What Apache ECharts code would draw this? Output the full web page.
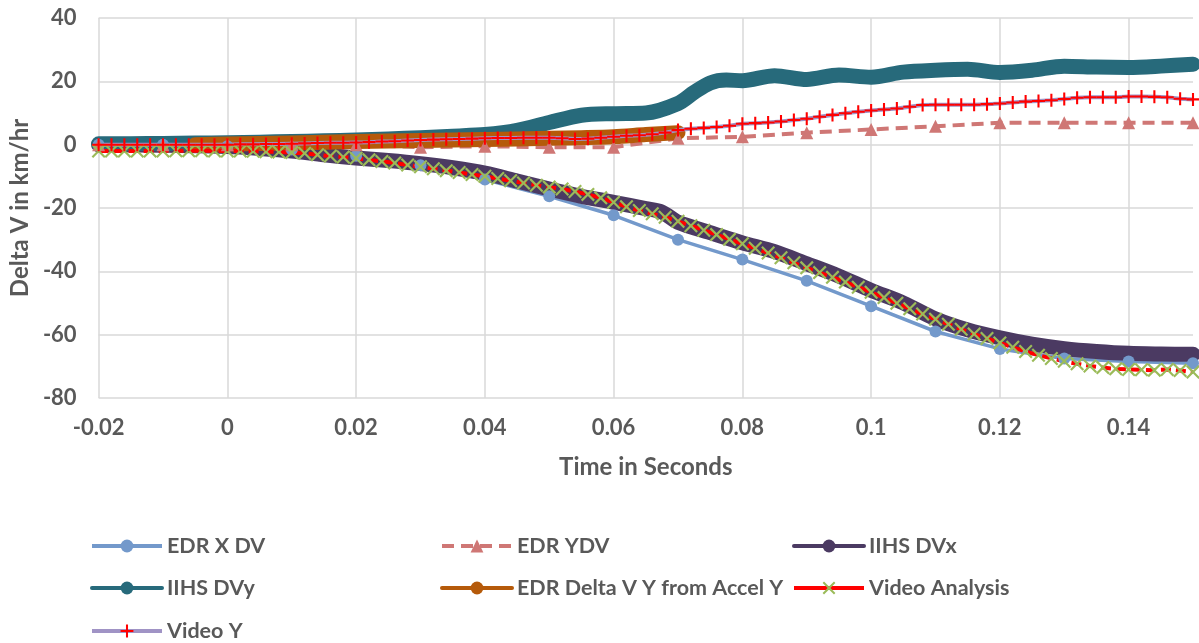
<!DOCTYPE html>
<html>
<head>
<meta charset="utf-8">
<script src="https://cdn.jsdelivr.net/npm/echarts@6/dist/echarts.min.js"></script>
<style>
html,body{margin:0;padding:0;background:#fff;}
#chart{width:1199px;height:643px;}
</style>
</head>
<body>
<div id="chart"></div>
<script>
// ---- data ----
const edrT = [-0.02,-0.01,0,0.01,0.02,0.03,0.04,0.05,0.06,0.07,0.08,0.09,0.1,0.11,0.12,0.13,0.14,0.15];
const edrXDV = [0,0,-0.5,-1.5,-3.5,-6.5,-11,-16.3,-22.3,-30,-36.3,-43,-51,-59,-64.5,-67.5,-68.5,-69];
const edrYDV = [0,0,0,0,0,-0.8,-0.5,-0.8,-0.8,2,2.5,3.8,4.8,5.8,6.9,6.9,6.9,6.9];

const dvxT = [-0.02,-0.01,0,0.005,0.01,0.015,0.02,0.025,0.03,0.035,0.04,0.045,0.05,0.055,0.06,0.065,0.0675,0.07,0.075,0.08,0.085,0.09,0.095,0.1,0.105,0.11,0.115,0.12,0.125,0.13,0.135,0.14,0.145,0.15];
const dvxV = [0,-0.2,-0.6,-1.2,-2.0,-3.2,-4.2,-5.0,-6.0,-7.3,-9.0,-11.5,-14.0,-16.3,-18.2,-20.2,-21.3,-24.5,-27.8,-31.0,-33.8,-37.6,-41.5,-46.0,-50.0,-55.0,-58.5,-61.0,-63.0,-64.4,-65.3,-65.9,-66.1,-66.2];

const dvyT = [-0.02,-0.015,-0.01,-0.005,0,0.005,0.01,0.015,0.02,0.025,0.03,0.035,0.04,0.045,0.05,0.055,0.06,0.065,0.07,0.0725,0.075,0.0775,0.08,0.085,0.09,0.095,0.1,0.105,0.11,0.115,0.12,0.125,0.13,0.135,0.14,0.145,0.15];
const dvyV = [0.3,0.3,0.4,0.5,0.6,0.8,1.0,1.2,1.5,1.8,2.2,2.7,3.2,4.5,7.0,9.3,9.8,10.0,13.0,16.5,19.5,20.4,20.2,21.8,20.6,22.0,21.3,22.9,23.5,23.8,22.8,23.5,24.8,24.5,24.4,24.8,25.4];

const accT = [-0.005,0,0.01,0.02,0.03,0.04,0.05,0.055,0.06,0.065,0.07];
const accV = [0,0.2,0.5,1.0,1.3,1.6,2.0,2.2,2.5,3.2,3.8];

const videoT = [-0.02,-0.018,-0.016,-0.014,-0.012,-0.01,-0.008,-0.006,-0.004,-0.002,
  0,0.002,0.004,0.006,0.008,0.01,0.012,0.014,0.016,0.018,
  0.02,0.022,0.024,0.026,0.028,0.03,0.032,0.034,0.036,0.038,
  0.04,0.042,0.044,0.046,0.048,0.05,0.052,0.054,0.056,0.058,
  0.06,0.062,0.064,0.066,0.068,0.07,0.072,0.074,0.076,0.078,
  0.08,0.082,0.084,0.086,0.088,0.09,0.092,0.094,0.096,0.098,
  0.1,0.102,0.104,0.106,0.108,0.11,0.112,0.114,0.116,0.118,
  0.12,0.122,0.124,0.126,0.128,0.13,0.132,0.134,0.136,0.138,
  0.14,0.142,0.144,0.146,0.148,0.15];
const videoAnalysis = [-2.0,-2.0,-2.0,-2.0,-2.0,-2.0,-1.9,-1.9,-1.9,-2.0,
  -2.0,-2.0,-2.1,-2.2,-2.3,-2.5,-2.7,-3.2,-3.6,-3.9,
  -4.3,-4.8,-5.3,-5.8,-6.4,-7.0,-7.6,-8.2,-8.8,-9.4,
  -10.0,-10.7,-11.4,-12.1,-12.8,-13.4,-14.0,-14.8,-15.7,-16.8,
  -18.2,-19.6,-20.8,-21.8,-22.9,-24.2,-25.6,-27.0,-28.4,-29.9,
  -31.3,-32.7,-34.2,-35.7,-37.3,-38.9,-40.4,-41.9,-43.4,-45.0,
  -46.6,-48.3,-50.1,-51.8,-53.5,-55.1,-56.7,-58.3,-59.8,-61.2,
  -62.6,-64.0,-65.3,-66.5,-67.5,-68.4,-69.2,-69.9,-70.4,-70.8,
  -71.0,-71.1,-71.2,-71.0,-71.3,-71.8];
const videoY = [0,0,0,0,0,0,0,0,0,0,
  0,0.1,0.1,0.2,0.2,0.3,0.4,0.5,0.6,0.6,
  0.7,0.8,1.0,1.1,1.3,1.5,1.6,1.7,1.8,1.9,
  2.0,2.1,2.1,2.2,2.2,2.2,2.0,1.8,1.9,2.2,
  2.5,2.8,3.0,3.3,3.8,4.6,5.0,5.3,5.6,6.0,
  6.6,6.8,7.0,7.3,7.8,8.2,8.8,9.4,9.9,10.4,
  10.8,11.1,11.4,12.0,12.5,12.6,12.6,12.6,12.6,12.8,
  13.0,13.3,13.6,13.8,14.0,14.4,14.8,15.0,15.0,15.0,
  15.2,15.2,15.1,15.0,14.5,14.3];

const seriesNames = ['EDR X DV','EDR YDV','IIHS DVx','IIHS DVy','EDR Delta V Y from Accel Y','Video Analysis','Video Y'];
const xTickMin = -0.02, xTickMax = 0.15, xTickStep = 0.02;
const yTickMin = -80, yTickMax = 40, yTickStep = 20;

// ---- build ----
const pairs = (t, v) => t.map((x, i) => [x, v[i]]);
const FONT = 'Lato';
const TXT = '#595959';
const PLUS = 'path://M4.2,0H5.8V4.2H10V5.8H5.8V10H4.2V5.8H0V4.2H4.2Z';
const CROSS = 'path://M0,1.1L1.1,0L5,3.9L8.9,0L10,1.1L6.1,5L10,8.9L8.9,10L5,6.1L1.1,10L0,8.9L3.9,5Z';

const chart = echarts.init(document.getElementById('chart'), null, {renderer: 'canvas'});

const legendPos = [[90,535],[440,535],[792,535],[90,577],[440,577],[792,577],[90,620]];
const legends = seriesNames.map((n, i) => ({
  data: [n],
  left: legendPos[i][0], top: legendPos[i][1],
  padding: 0,
  itemWidth: 70, itemHeight: 16,
  selectedMode: false,
  lineStyle: i === 5 ? {width: 4, type: 'solid'} : {width: 4},
  textStyle: {fontFamily: FONT, fontWeight: 'bold', fontSize: 21.5, color: TXT, lineHeight: 16}
}));

chart.setOption({
  animation: false,
  backgroundColor: '#fff',
  grid: {left: 97, right: 6, top: 18, bottom: 245, containLabel: false},
  legend: legends,
  xAxis: {
    type: 'value', min: xTickMin, max: xTickMax, interval: xTickStep,
    name: 'Time in Seconds', nameLocation: 'middle', nameGap: 57,
    nameTextStyle: {fontFamily: FONT, fontWeight: 'bold', fontSize: 24, color: TXT},
    axisLine: {show: false}, axisTick: {show: false},
    axisLabel: {fontFamily: FONT, fontWeight: 'bold', fontSize: 22, color: TXT, margin: 19, showMaxLabel: false},
    splitLine: {show: true, showMaxLine: false, lineStyle: {color: '#D9D9D9', width: 1.5}}
  },
  yAxis: {
    type: 'value', min: yTickMin, max: yTickMax, interval: yTickStep,
    name: 'Delta V in km/hr', nameLocation: 'middle', nameGap: 66,
    nameTextStyle: {fontFamily: FONT, fontWeight: 'bold', fontSize: 24, color: TXT},
    axisLine: {show: false}, axisTick: {show: false},
    axisLabel: {fontFamily: FONT, fontWeight: 'bold', fontSize: 22, color: TXT, margin: 22},
    splitLine: {show: true, lineStyle: {color: '#D9D9D9', width: 1.5}}
  },
  series: [
    {
      name: seriesNames[0], type: 'line', data: pairs(edrT, edrXDV),
      symbol: 'circle', symbolSize: 12, showAllSymbol: true,
      lineStyle: {color: '#7399CB', width: 3.5},
      itemStyle: {color: '#7399CB'}
    },
    {
      name: seriesNames[1], type: 'line', data: pairs(edrT, edrYDV),
      symbol: 'triangle', symbolSize: 13, showAllSymbol: true,
      lineStyle: {color: '#CF7775', width: 4, type: [12, 7]},
      itemStyle: {color: '#CF7775'}
    },
    {
      name: seriesNames[2], type: 'line', data: pairs(dvxT, dvxV),
      symbol: 'circle', showSymbol: false, smooth: 0.3,
      lineStyle: {color: '#4B3A62', width: 15, cap: 'round', join: 'round'},
      itemStyle: {color: '#4B3A62'}
    },
    {
      name: seriesNames[3], type: 'line', data: pairs(dvyT, dvyV),
      symbol: 'circle', showSymbol: false, smooth: 0.3,
      lineStyle: {color: '#276A7B', width: 15, cap: 'round', join: 'round'},
      itemStyle: {color: '#276A7B'}
    },
    {
      name: seriesNames[4], type: 'line', data: pairs(accT, accV),
      symbol: 'circle', showSymbol: false, smooth: 0.3,
      lineStyle: {color: '#B55A0A', width: 15, cap: 'round', join: 'round'},
      itemStyle: {color: '#B55A0A'}
    },
    {
      name: seriesNames[5], type: 'line', data: pairs(videoT, videoAnalysis),
      symbol: CROSS, symbolSize: 14, showAllSymbol: true,
      lineStyle: {color: '#FF0000', width: 4, type: [10, 5]},
      itemStyle: {color: '#9BBB59'}
    },
    {
      name: seriesNames[6], type: 'line', data: pairs(videoT, videoY),
      symbol: PLUS, symbolSize: 13, showAllSymbol: true,
      lineStyle: {color: '#A093C5', width: 4},
      itemStyle: {color: '#FF0000'}
    }
  ]
});
</script>
</body>
</html>
